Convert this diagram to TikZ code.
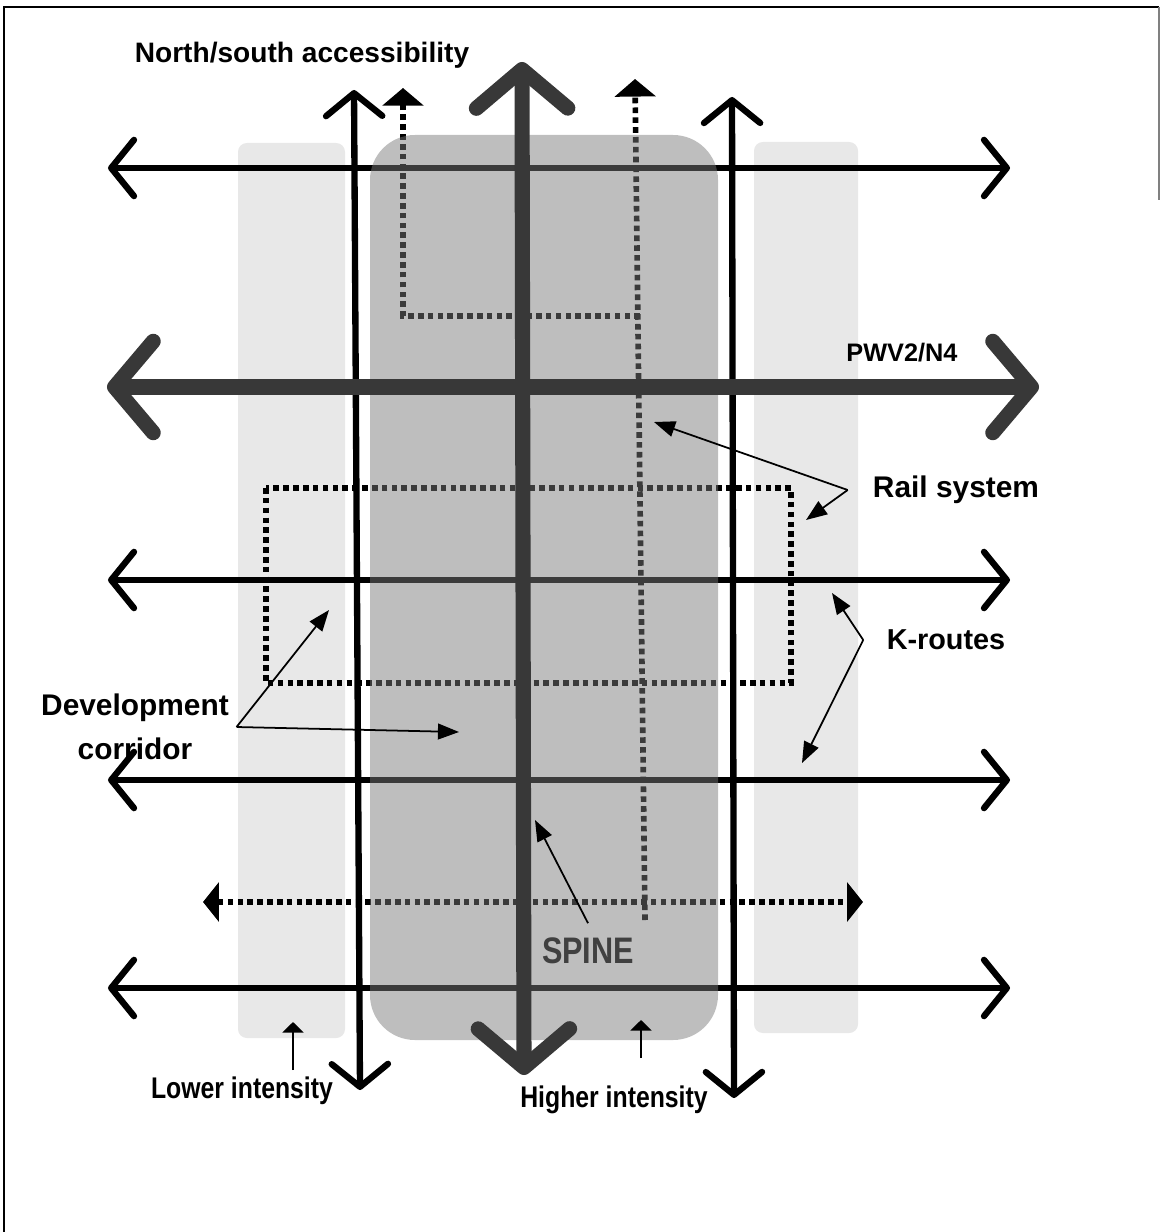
\documentclass[tikz,border=0pt]{standalone}
\usepackage{fontspec}
\setmainfont{Liberation Sans}
\newfontfamily\narrowfont[FakeStretch=0.83]{Liberation Sans}
\usetikzlibrary{arrows.meta}
\definecolor{lowband}{HTML}{E8E8E8}
\definecolor{highband}{HTML}{7A7A7A}
\definecolor{roadgray}{HTML}{383838}
\definecolor{spineink}{HTML}{404040}
\tikzset{
  lbl/.style={font=\bfseries\fontsize{8.5}{12.5}\selectfont, inner sep=0pt, align=center},
  narrowlbl/.style={lbl, font=\narrowfont\bfseries\fontsize{8.5}{10}\selectfont},
  band/.style={fill=lowband, rounded corners=2.5pt},
  core/.style={fill=highband, fill opacity=0.49, rounded corners=12.8pt},
  route/.style={line width=1.8pt, line cap=round, {Straight Barb[length=6.5pt,width=16pt,round]}-{Straight Barb[length=6.5pt,width=16pt,round]}},
  mainroute/.style={draw=roadgray, line width=4.3pt, line cap=round, {Straight Barb[length=11pt,width=26pt,round]}-{Straight Barb[length=11pt,width=26pt,round]}},
  railline/.style={line width=1.6pt, dash pattern=on 1.6pt off 1.2pt},
  railtip/.style={-{Triangle[length=5pt,width=11.5pt]}},
  pointer/.style={line width=0.5pt, -{Triangle[length=6pt,width=4.5pt]}},
  smallpointer/.style={line width=0.5pt, -{Triangle[length=3pt,width=6pt]}},
}

\begin{document}
\begin{tikzpicture}[x=0.1mm, y=-0.1mm]
\useasboundingbox (0,0) rectangle (1161,1232);
% --- frame
\draw[line width=0.6pt] (4,1232) -- (4,7) -- (1159,7);
\draw[line width=0.6pt, gray] (1159,7) -- (1159,200);
% --- intensity bands
\fill[band] (238,143) rectangle (345,1038);
\fill[band] (754,142) rectangle (858,1033);
% --- k-routes (under the core band)
\foreach \y in {168,580,780,988} {\draw[route] (108,\y) -- (1010,\y);}
% --- rail system and development corridor
\draw[railline, railtip] (640,316) -| (403,88);
\draw[railline, railtip] (645,920) -- (635,79);
\draw[railline] (266,488) rectangle (791,683);
\draw[railline, {Triangle[length=4.5pt,width=11pt]}-{Triangle[length=4.5pt,width=11pt]}] (203,902) -- (863,902);
% --- higher intensity core
\fill[core] (370,135) rectangle (718,1040);
% --- north/south lines, PWV2/N4 and spine
\draw[route] (354,90) -- (360,1090);
\draw[route] (732,97) -- (734,1098);
\draw[mainroute] (107,387) -- (1039,387);
\draw[mainroute] (522,62) -- (524,1075);
% --- labels
\node[lbl, font=\bfseries\fontsize{8}{10}\selectfont] (access) at (302,55) {North/south accessibility};
\node[lbl, font=\bfseries\fontsize{7.2}{9}\selectfont] (pwv) at (902,353) {PWV2/N4};
\node[lbl] (rail) at (956,490) {Rail system};
\node[lbl, font=\bfseries\fontsize{8.2}{10}\selectfont] (kroutes) at (946,640) {K-routes};
\node[lbl] (devcorr) at (135,727) {Development\\corridor};
\node[narrowlbl, font=\narrowfont\bfseries\fontsize{10.5}{12}\selectfont, text=spineink] (spinelbl) at (588,951) {SPINE};
\node[narrowlbl] (lower) at (242,1091) {Lower intensity};
\node[narrowlbl] (higher) at (614,1100) {Higher intensity};
% --- pointers
\coordinate (railA) at (654,422);
\coordinate (railB) at (806,520);
\coordinate (kA) at (832,593);
\coordinate (kB) at (802,763);
\coordinate (devA) at (329,610);
\coordinate (devB) at (459,732);
\coordinate (spineA) at (535,820);
\coordinate (lowfoot) at (293,1070);
\coordinate (lowtip) at (293,1022);
\coordinate (highfoot) at (641,1058);
\coordinate (hightip) at (641,1020);
\draw[pointer] ([xshift=-7pt]rail.west) -- (railA);
\draw[pointer] ([xshift=-7pt]rail.west) -- (railB);
\draw[pointer] ([xshift=-6.5pt]kroutes.west) -- (kA);
\draw[pointer] ([xshift=-6.5pt]kroutes.west) -- (kB);
\draw[pointer] ([xshift=2pt]devcorr.east) -- (devA);
\draw[pointer] ([xshift=2pt]devcorr.east) -- (devB);
\draw[pointer] ([yshift=4pt]spinelbl.north) -- (spineA);
\draw[smallpointer] (lowfoot) -- (lowtip);
\draw[smallpointer] (highfoot) -- (hightip);
\end{tikzpicture}
\end{document}
